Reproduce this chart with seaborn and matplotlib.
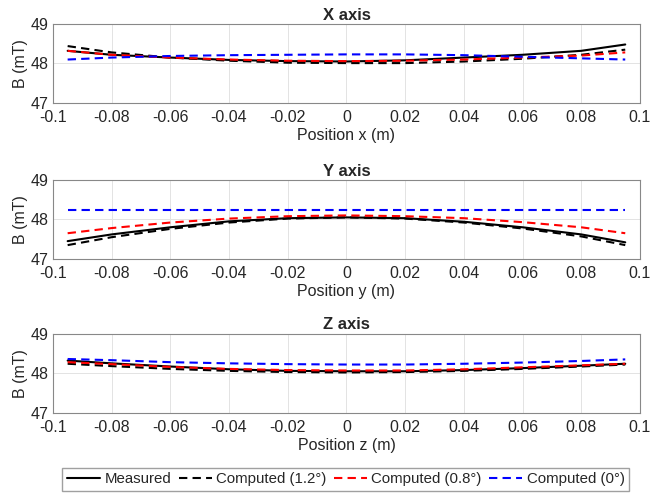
import numpy as np
import pandas as pd
import seaborn as sns
import matplotlib.pyplot as plt

# posisi sensor (m)
pos = [-0.095, -0.08, -0.06, -0.04, -0.02, 0.0, 0.02, 0.04, 0.06, 0.08, 0.095]

# X axis
x_meas = [48.32, 48.22, 48.15, 48.09, 48.06, 48.05, 48.08, 48.15, 48.22, 48.32, 48.48]
x_c12 = [48.44, 48.28, 48.15, 48.07, 48.02, 48.01, 48.01, 48.05, 48.12, 48.22, 48.35]
x_c08 = [48.32, 48.22, 48.15, 48.10, 48.07, 48.06, 48.07, 48.10, 48.15, 48.20, 48.28]
x_c0 = [48.10, 48.15, 48.19, 48.21, 48.22, 48.23, 48.23, 48.21, 48.17, 48.13, 48.10]

# Y axis
y_meas = [47.45, 47.62, 47.80, 47.95, 48.03, 48.05, 48.03, 47.94, 47.80, 47.62, 47.42]
y_c12 = [47.35, 47.55, 47.76, 47.92, 48.02, 48.05, 48.02, 47.92, 47.77, 47.57, 47.35]
y_c08 = [47.65, 47.78, 47.92, 48.02, 48.08, 48.10, 48.08, 48.03, 47.93, 47.80, 47.65]
y_c0 = [48.24, 48.24, 48.24, 48.24, 48.24, 48.24, 48.24, 48.24, 48.24, 48.24, 48.24]

# Z axis
z_meas = [48.32, 48.25, 48.17, 48.10, 48.06, 48.05, 48.05, 48.08, 48.13, 48.19, 48.24]
z_c12 = [48.24, 48.18, 48.11, 48.06, 48.03, 48.02, 48.03, 48.06, 48.11, 48.17, 48.22]
z_c08 = [48.28, 48.23, 48.16, 48.11, 48.08, 48.07, 48.07, 48.10, 48.15, 48.20, 48.24]
z_c0 = [48.36, 48.33, 48.28, 48.25, 48.23, 48.22, 48.22, 48.24, 48.27, 48.31, 48.35]

series_names = ["Measured", "Computed (1.2°)", "Computed (0.8°)", "Computed (0°)"]
panels = [
    ("X axis", "Position x (m)", [x_meas, x_c12, x_c08, x_c0]),
    ("Y axis", "Position y (m)", [y_meas, y_c12, y_c08, y_c0]),
    ("Z axis", "Position z (m)", [z_meas, z_c12, z_c08, z_c0]),
]
xticks = [-0.1, -0.08, -0.06, -0.04, -0.02, 0, 0.02, 0.04, 0.06, 0.08, 0.1]
xticklabels = ["-0.1", "-0.08", "-0.06", "-0.04", "-0.02", "0", "0.02", "0.04", "0.06", "0.08", "0.1"]
yticks = [47, 48, 49]

sns.set_style("whitegrid")
plt.rcParams['font.family'] = ['Liberation Sans', 'DejaVu Sans']
plt.rcParams['font.size'] = 11

colors = ["black", "black", "red", "blue"]
styles = ["-", "--", "--", "--"]

fig = plt.figure(figsize=(6.5, 4.98), dpi=100)
bottoms = [0.793, 0.480, 0.171]

for (title, xlabel, vals), b in zip(panels, bottoms):
    ax = fig.add_axes([0.0815, b, 0.903, 0.159])
    for name, v, c, ls in zip(series_names, vals, colors, styles):
        df = pd.DataFrame({"pos": pos, "B": v})
        sns.lineplot(data=df, x="pos", y="B", ax=ax, color=c, lw=1.5, label=name)
        if ls == "--":
            ax.lines[-1].set_dashes((4, 2.5))
    ax.set_xlim(-0.1, 0.1)
    ax.set_ylim(47, 49)
    ax.set_xticks(xticks)
    ax.set_xticklabels(xticklabels)
    ax.set_yticks(yticks)
    ax.set_title(title, fontweight="bold", fontsize=12, pad=3)
    ax.set_xlabel(xlabel, fontsize=11.5, labelpad=2)
    ax.set_ylabel("B (mT)", fontsize=11.5, labelpad=2)
    ax.tick_params(axis="x", labelsize=11.5, pad=5, length=0)
    ax.tick_params(axis="y", labelsize=11.5, pad=3, length=0)
    ax.grid(True, color="#e3e3e3", lw=0.7)
    for s in ax.spines.values():
        s.set_color("#888888")
        s.set_linewidth(0.8)
    handles, labels = ax.get_legend_handles_labels()
    ax.get_legend().remove()

fig.legend(handles, labels, loc="center", bbox_to_anchor=(0.532, 0.038), ncol=4,
           frameon=True, fancybox=False, edgecolor="#888888", fontsize=10.8,
           handlelength=2.2, handletextpad=0.3, columnspacing=0.5,
           borderpad=0.3)

fig.savefig("out.png", dpi=100, facecolor="white")
